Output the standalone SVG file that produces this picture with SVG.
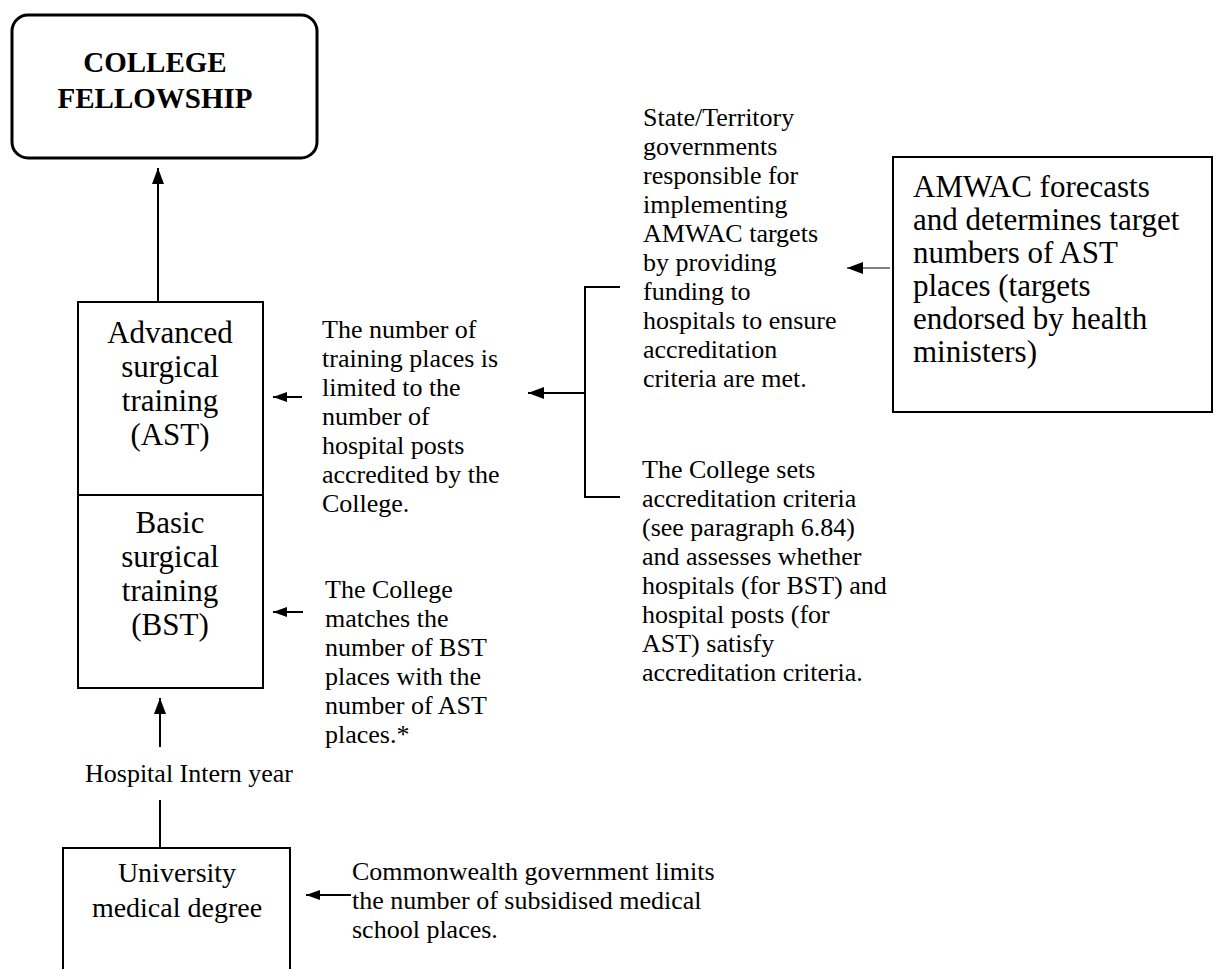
<svg xmlns="http://www.w3.org/2000/svg" width="1218" height="969" viewBox="0 0 1218 969">
  <style>
    text { font-family: "Liberation Serif", "Times New Roman", serif; fill: #000; }
    .box { fill: #fff; stroke: #000; stroke-width: 2; }
    .big { font-size: 31px; }
    .body { font-size: 26px; }
    .amw { font-size: 31px; }
    .title { font-size: 29px; font-weight: bold; }
    .mid { text-anchor: middle; }
    .ln { fill: none; stroke: #000; stroke-width: 2; }
    .thin { fill: none; stroke: #000; stroke-width: 1.2; }
  </style>
  <defs>
    <marker id="ah" viewBox="0 0 16 12" refX="16" refY="6" markerWidth="16" markerHeight="12" markerUnits="userSpaceOnUse" orient="auto">
      <path d="M0,0 L16,6 L0,12 z" fill="#000"/>
    </marker>
    <marker id="ahs" viewBox="0 0 14 10" refX="14" refY="5" markerWidth="14" markerHeight="10" markerUnits="userSpaceOnUse" orient="auto">
      <path d="M0,0 L14,5 L0,10 z" fill="#000"/>
    </marker>
  </defs>
  <rect width="1218" height="969" fill="#fff"/>

  <!-- connectors -->
  <g id="connectors">
    <path class="ln" d="M158,302 V168" marker-end="url(#ah)"/>
    <path class="ln" d="M160,848 V800"/>
    <path class="ln" d="M160,747 V698" marker-end="url(#ah)"/>
    <path class="ln" d="M302,397 H273" marker-end="url(#ahs)"/>
    <path class="ln" d="M303,612 H273" marker-end="url(#ahs)"/>
    <path class="ln" d="M620,287 H585 V497 H620"/>
    <path class="ln" d="M585,393 H528" marker-end="url(#ah)"/>
    <path class="thin" d="M890,268 H847" marker-end="url(#ah)"/>
    <path class="ln" d="M351,895 H306" marker-end="url(#ahs)"/>
  </g>

  <!-- top: fellowship -->
  <g id="fellowship">
    <rect x="12" y="15" width="305" height="143" rx="16" ry="16" fill="#fff" stroke="#000" stroke-width="3"/>
    <text class="title mid" x="155" y="72">COLLEGE</text>
    <text class="title mid" x="155" y="108">FELLOWSHIP</text>
  </g>

  <!-- training stages -->
  <g id="ast">
    <rect class="box" x="78" y="302" width="185" height="193"/>
    <text class="big mid" x="170" y="343">Advanced</text>
    <text class="big mid" x="170" y="377">surgical</text>
    <text class="big mid" x="170" y="411">training</text>
    <text class="big mid" x="170" y="445">(AST)</text>
  </g>
  <g id="bst">
    <rect class="box" x="78" y="495" width="185" height="193"/>
    <text class="big mid" x="170" y="533">Basic</text>
    <text class="big mid" x="170" y="567">surgical</text>
    <text class="big mid" x="170" y="601">training</text>
    <text class="big mid" x="170" y="635">(BST)</text>
  </g>

  <g id="intern">
    <text class="body" x="85" y="782">Hospital Intern year</text>
  </g>

  <g id="degree">
    <path class="box" d="M63,970 V848 H290 V970"/>
    <text class="big mid" x="177" y="882" style="font-size:28px">University</text>
    <text class="big mid" x="177" y="917" style="font-size:28px">medical degree</text>
  </g>

  <!-- explanatory notes -->
  <g id="note-places">
    <text class="body" x="322" y="338">The number of</text>
    <text class="body" x="322" y="367">training places is</text>
    <text class="body" x="322" y="396">limited to the</text>
    <text class="body" x="322" y="425">number of</text>
    <text class="body" x="322" y="454">hospital posts</text>
    <text class="body" x="322" y="483">accredited by the</text>
    <text class="body" x="322" y="512">College.</text>
  </g>

  <g id="note-matching">
    <text class="body" x="325" y="598">The College</text>
    <text class="body" x="325" y="627">matches the</text>
    <text class="body" x="325" y="656">number of BST</text>
    <text class="body" x="325" y="685">places with the</text>
    <text class="body" x="325" y="714">number of AST</text>
    <text class="body" x="325" y="743">places.*</text>
  </g>

  <g id="note-states">
    <text class="body" x="643" y="126">State/Territory</text>
    <text class="body" x="643" y="155">governments</text>
    <text class="body" x="643" y="184">responsible for</text>
    <text class="body" x="643" y="213">implementing</text>
    <text class="body" x="643" y="242">AMWAC targets</text>
    <text class="body" x="643" y="271">by providing</text>
    <text class="body" x="643" y="300">funding to</text>
    <text class="body" x="643" y="329">hospitals to ensure</text>
    <text class="body" x="643" y="358">accreditation</text>
    <text class="body" x="643" y="387">criteria are met.</text>
  </g>

  <g id="note-accreditation">
    <text class="body" x="642" y="478">The College sets</text>
    <text class="body" x="642" y="507">accreditation criteria</text>
    <text class="body" x="642" y="536">(see paragraph 6.84)</text>
    <text class="body" x="642" y="565">and assesses whether</text>
    <text class="body" x="642" y="594">hospitals (for BST) and</text>
    <text class="body" x="642" y="623">hospital posts (for</text>
    <text class="body" x="642" y="652">AST) satisfy</text>
    <text class="body" x="642" y="681">accreditation criteria.</text>
  </g>

  <g id="amwac">
    <rect class="box" x="893" y="157" width="319" height="255"/>
    <text class="amw" x="913" y="197">AMWAC forecasts</text>
    <text class="amw" x="913" y="230">and determines target</text>
    <text class="amw" x="913" y="263">numbers of AST</text>
    <text class="amw" x="913" y="296">places (targets</text>
    <text class="amw" x="913" y="329">endorsed by health</text>
    <text class="amw" x="913" y="362">ministers)</text>
  </g>

  <g id="note-commonwealth">
    <text class="body" x="352" y="880">Commonwealth government limits</text>
    <text class="body" x="352" y="909">the number of subsidised medical</text>
    <text class="body" x="352" y="938">school places.</text>
  </g>
</svg>
